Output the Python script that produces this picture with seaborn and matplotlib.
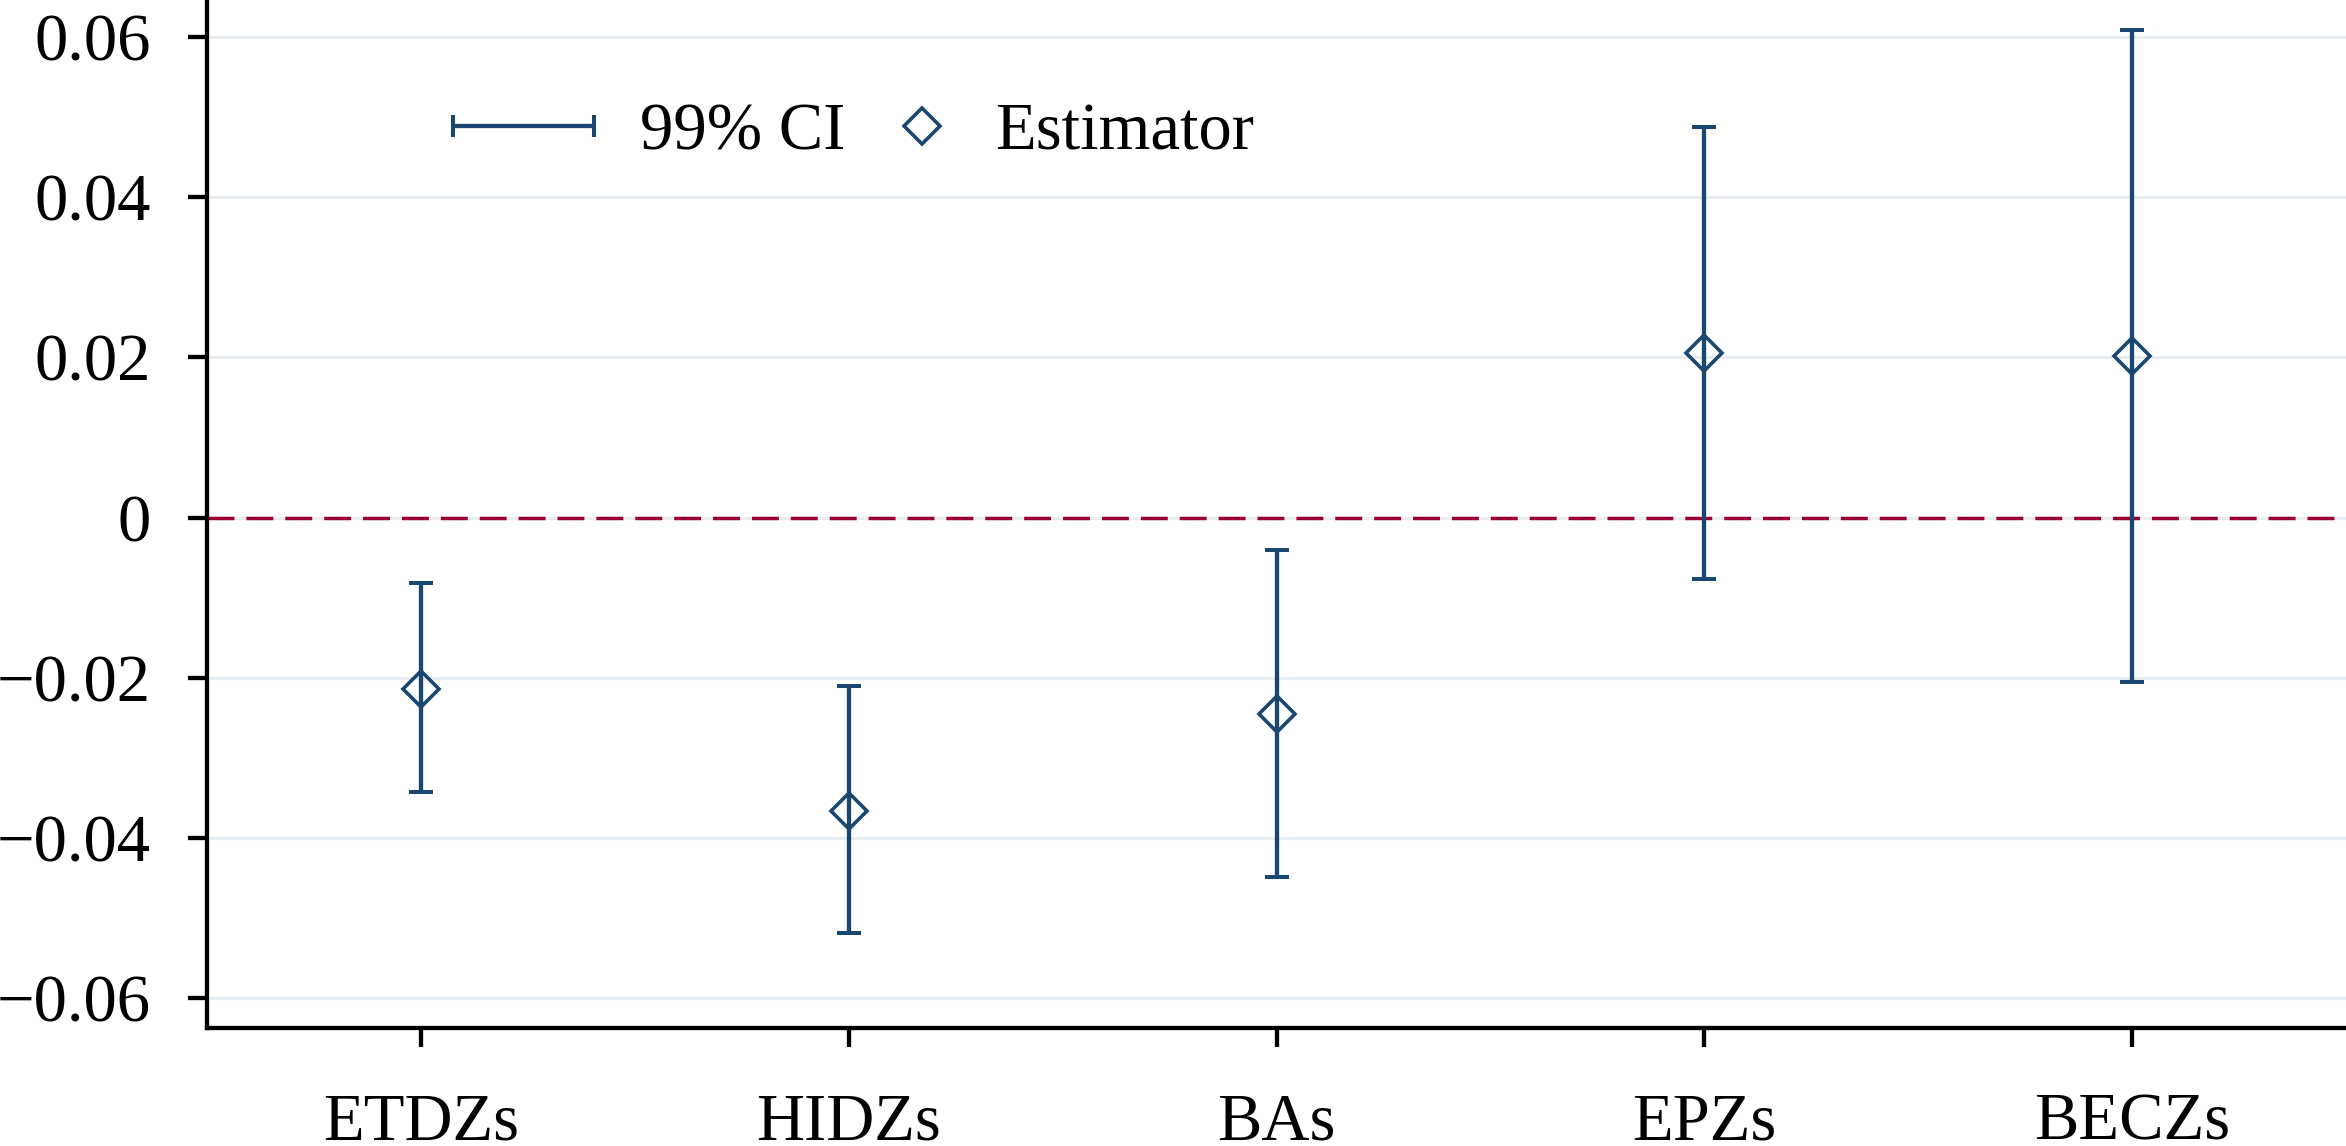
import numpy as np
import pandas as pd
import matplotlib
matplotlib.use('Agg')
import matplotlib.pyplot as plt
import seaborn as sns
from matplotlib.lines import Line2D
from matplotlib.legend_handler import HandlerLine2D

# Values
zones = ['ETDZs', 'HIDZs', 'BAs', 'EPZs', 'BECZs']
estimate = [-0.0214, -0.0366, -0.0245, 0.0205, 0.0202]
ci_low = [-0.0343, -0.0519, -0.0448, -0.0076, -0.0205]
ci_high = [-0.0081, -0.0210, -0.0040, 0.0488, 0.0608]

yticks = [-0.06, -0.04, -0.02, 0, 0.02, 0.04, 0.06]
ytick_labels = ['\u22120.06', '\u22120.04', '\u22120.02', '0', '0.02', '0.04', '0.06']

df = pd.DataFrame({'zone': zones, 'est': estimate, 'lo': ci_low, 'hi': ci_high})

navy = '#1a476f'
cranberry = '#990033'
gridc = '#e7edf1'

sns.set_theme(style='white')
plt.rcParams['font.family'] = ['Liberation Serif', 'DejaVu Serif']
plt.rcParams['text.color'] = 'black'
plt.rcParams['lines.scale_dashes'] = False

fig = plt.figure(figsize=(23.46, 11.46), dpi=100)
ax = fig.add_axes([207 / 2346, 118 / 1146, 2139 / 2346, 1028 / 1146])

# point estimates
sns.pointplot(data=df, x='zone', y='est', order=zones, linestyle='none', markers='D',
              errorbar=None, color=navy, markersize=18.5, markeredgewidth=2.6,
              markerfacecolor='none', zorder=3, ax=ax)

# 99% confidence intervals
pos = np.arange(len(zones))
ax.errorbar(pos, df['est'], yerr=[df['est'] - df['lo'], df['hi'] - df['est']], fmt='none',
            ecolor=navy, elinewidth=3.1, capsize=8.3, capthick=2.9, zorder=2.5)

ax.axhline(0, color=cranberry, lw=2.5, linestyle=(0, (19.4, 8.6)), zorder=1.5)

ax.set_xlim(-0.5, len(zones) - 0.5)
ax.set_ylim(-0.0637, 0.0646)
ax.set_yticks(yticks)
ax.set_yticklabels(ytick_labels)
ax.set_xlabel('')
ax.set_ylabel('')

ax.set_axisbelow(True)
ax.yaxis.grid(True, color=gridc, lw=2.2)
ax.xaxis.grid(False)

for side in ['top', 'right']:
    ax.spines[side].set_visible(False)
for side in ['left', 'bottom']:
    ax.spines[side].set_color('black')
    ax.spines[side].set_linewidth(3.1)

ax.tick_params(axis='both', which='major', length=13.5, width=3.1, color='black',
               labelsize=48, labelcolor='black', direction='out')
ax.tick_params(axis='y', pad=27, left=True)
ax.tick_params(axis='x', pad=33, bottom=True)


# legend handlers: CI key is a capped horizontal bar, estimator key sits at the right
class CIHandler(HandlerLine2D):
    def get_xdata(self, legend, xdescent, ydescent, width, height, fontsize):
        x = np.array([-xdescent + width - 101.5, -xdescent + width])
        return x, x


class EstHandler(HandlerLine2D):
    def get_xdata(self, legend, xdescent, ydescent, width, height, fontsize):
        x = np.array([-xdescent, -xdescent + width])
        return x, np.array([-xdescent + width - 0.13 * fontsize])


ci_key = Line2D([], [], color=navy, lw=3.1, marker='|', markersize=16.5, markeredgewidth=2.9)
est_key = Line2D([], [], color=navy, linestyle='none', marker='D', markersize=18.5,
                 markeredgewidth=2.6, markerfacecolor='none')

fig.legend([ci_key, est_key], ['99% CI', 'Estimator'], ncol=2, frameon=False,
           loc='center left', bbox_to_anchor=(541 / 2346, 1 - 133 / 1146),
           fontsize=48, handlelength=0.8, handletextpad=0.69, columnspacing=0.75,
           borderpad=0, borderaxespad=0, labelcolor='black',
           handler_map={ci_key: CIHandler(numpoints=2), est_key: EstHandler(numpoints=1)})

fig.savefig('out.png', dpi=100)
